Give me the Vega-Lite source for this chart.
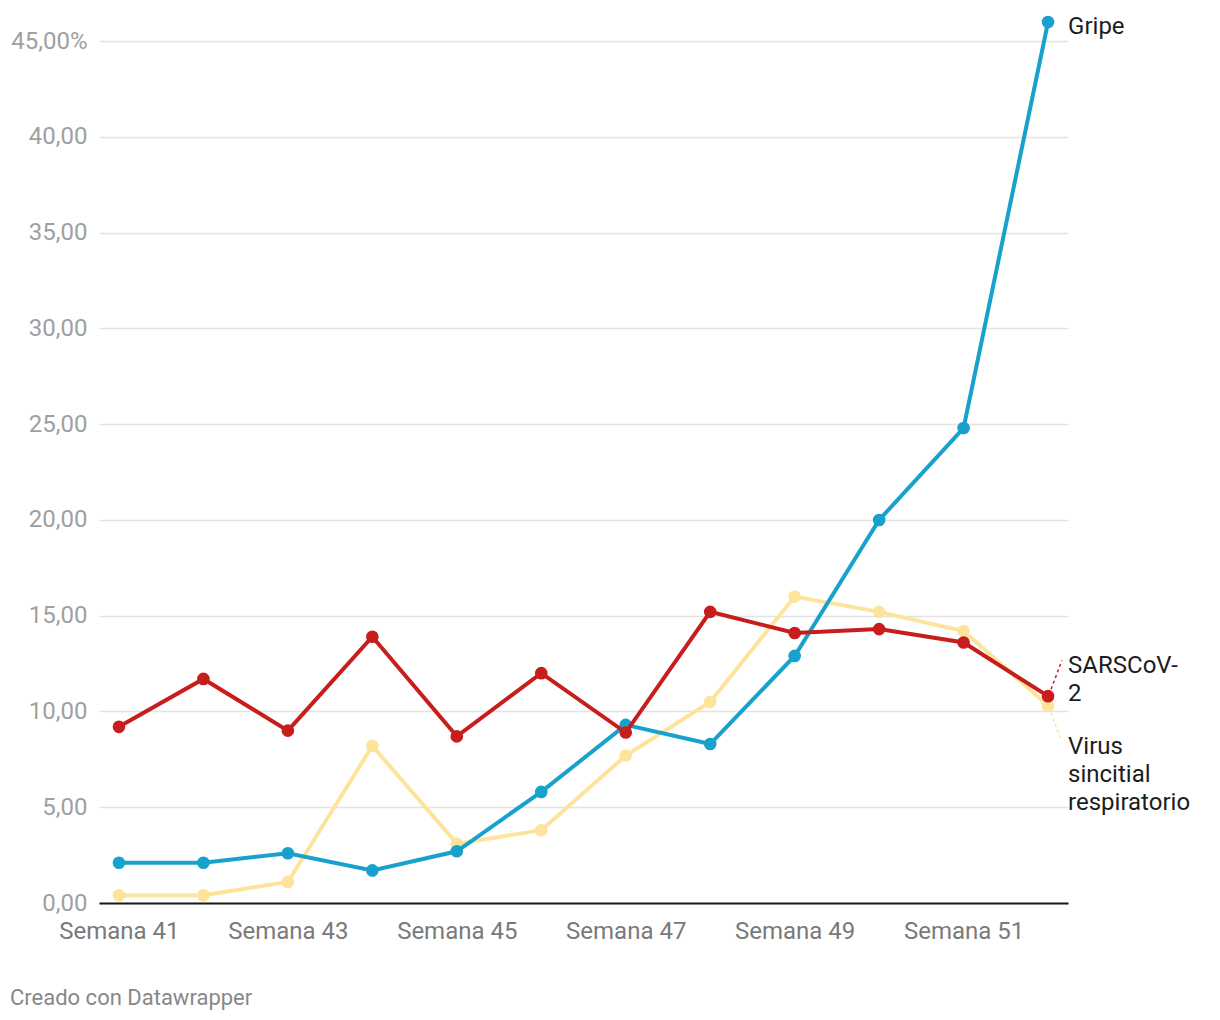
{
  "$schema": "https://vega.github.io/schema/vega-lite/v6.json",
  "width": 969,
  "height": 881,
  "autosize": "none",
  "padding": {"left": 99, "top": 22, "right": 152, "bottom": 117},
  "background": "white",
  "config": {"font": "Roboto", "view": {"stroke": null}},
  "title": {
    "text": "Creado con Datawrapper",
    "orient": "bottom",
    "anchor": "start",
    "frame": "group",
    "dx": -89,
    "offset": 45,
    "fontSize": 22,
    "fontWeight": "normal",
    "color": "#888888",
    "font": "Roboto"
  },
  "data": {
    "values": [
      {"semana": "Semana 41", "gripe": 2.1, "sars": 9.2, "vsr": 0.4},
      {"semana": "Semana 42", "gripe": 2.1, "sars": 11.7, "vsr": 0.4},
      {"semana": "Semana 43", "gripe": 2.6, "sars": 9.0, "vsr": 1.1},
      {"semana": "Semana 44", "gripe": 1.7, "sars": 13.9, "vsr": 8.2},
      {"semana": "Semana 45", "gripe": 2.7, "sars": 8.7, "vsr": 3.1},
      {"semana": "Semana 46", "gripe": 5.8, "sars": 12.0, "vsr": 3.8},
      {"semana": "Semana 47", "gripe": 9.3, "sars": 8.9, "vsr": 7.7},
      {"semana": "Semana 48", "gripe": 8.3, "sars": 15.2, "vsr": 10.5},
      {"semana": "Semana 49", "gripe": 12.9, "sars": 14.1, "vsr": 16.0},
      {"semana": "Semana 50", "gripe": 20.0, "sars": 14.3, "vsr": 15.2},
      {"semana": "Semana 51", "gripe": 24.8, "sars": 13.6, "vsr": 14.2},
      {"semana": "Semana 52", "gripe": 46.0, "sars": 10.8, "vsr": 10.3}
    ]
  },
  "encoding": {
    "x": {
      "field": "semana",
      "type": "ordinal",
      "sort": null,
      "scale": {"type": "point", "padding": 0.236},
      "axis": {
        "title": null,
        "values": ["Semana 41", "Semana 43", "Semana 45", "Semana 47", "Semana 49", "Semana 51"],
        "labelAngle": 0,
        "labelFontSize": 24,
        "labelColor": "#7a7a7a",
        "labelPadding": 16,
        "ticks": false,
        "domainColor": "#1a1a1a",
        "domainWidth": 2,
        "grid": false
      }
    }
  },
  "layer": [
    {
      "mark": {"type": "line", "color": "#fee39c", "strokeWidth": 4},
      "encoding": {
        "y": {
          "field": "vsr",
          "type": "quantitative",
          "scale": {"domain": [0, 46], "nice": false},
          "axis": {
            "title": null,
            "values": [0, 5, 10, 15, 20, 25, 30, 35, 40, 45],
            "labelExpr": "datum.value == 45 ? '45,00%' : replace(format(datum.value, '.2f'), '.', ',')",
            "labelFontSize": 24,
            "labelColor": "#a0a0a0",
            "labelPadding": 12,
            "ticks": false,
            "domain": false,
            "grid": true,
            "gridColor": "#e3e3e3",
            "gridWidth": 1.5
          }
        }
      }
    },
    {
      "mark": {"type": "point", "filled": true, "opacity": 1, "size": 160, "color": "#fee39c"},
      "encoding": {"y": {"field": "vsr", "type": "quantitative"}}
    },
    {
      "mark": {"type": "line", "color": "#18a1cd", "strokeWidth": 4},
      "encoding": {"y": {"field": "gripe", "type": "quantitative"}}
    },
    {
      "mark": {"type": "point", "filled": true, "opacity": 1, "size": 160, "color": "#18a1cd"},
      "encoding": {"y": {"field": "gripe", "type": "quantitative"}}
    },
    {
      "mark": {"type": "line", "color": "#c71e1d", "strokeWidth": 4},
      "encoding": {"y": {"field": "sars", "type": "quantitative"}}
    },
    {
      "mark": {"type": "point", "filled": true, "opacity": 1, "size": 160, "color": "#c71e1d"},
      "encoding": {"y": {"field": "sars", "type": "quantitative"}}
    },
    {
      "transform": [{"filter": "datum.semana == 'Semana 52'"}],
      "mark": {"type": "rule", "color": "#c71e1d", "strokeWidth": 1.5, "strokeDash": [3, 3], "xOffset": 3, "x2Offset": 14, "yOffset": -7, "y2Offset": -36},
      "encoding": {
        "x2": {"field": "semana"},
        "y": {"field": "sars", "type": "quantitative"},
        "y2": {"field": "sars"}
      }
    },
    {
      "transform": [{"filter": "datum.semana == 'Semana 52'"}],
      "mark": {"type": "rule", "color": "#fee39c", "strokeWidth": 1.5, "strokeDash": [3, 3], "xOffset": 3, "x2Offset": 13, "yOffset": 7, "y2Offset": 34},
      "encoding": {
        "x2": {"field": "semana"},
        "y": {"field": "vsr", "type": "quantitative"},
        "y2": {"field": "vsr"}
      }
    },
    {
      "transform": [{"filter": "datum.semana == 'Semana 52'"}],
      "mark": {"type": "text", "align": "left", "baseline": "alphabetic", "dx": 20, "dy": 12, "fontSize": 24, "color": "#1d1d1d"},
      "encoding": {"y": {"field": "gripe", "type": "quantitative"}, "text": {"value": "Gripe"}}
    },
    {
      "transform": [{"filter": "datum.semana == 'Semana 52'"}],
      "mark": {"type": "text", "align": "left", "baseline": "alphabetic", "dx": 20, "dy": -23, "fontSize": 24, "lineHeight": 28, "color": "#1d1d1d"},
      "encoding": {"y": {"field": "sars", "type": "quantitative"}, "text": {"value": ["SARSCoV-", "2"]}}
    },
    {
      "transform": [{"filter": "datum.semana == 'Semana 52'"}],
      "mark": {"type": "text", "align": "left", "baseline": "alphabetic", "dx": 20, "dy": 48, "fontSize": 24, "lineHeight": 28, "color": "#1d1d1d"},
      "encoding": {"y": {"field": "vsr", "type": "quantitative"}, "text": {"value": ["Virus", "sincitial", "respiratorio"]}}
    }
  ]
}
